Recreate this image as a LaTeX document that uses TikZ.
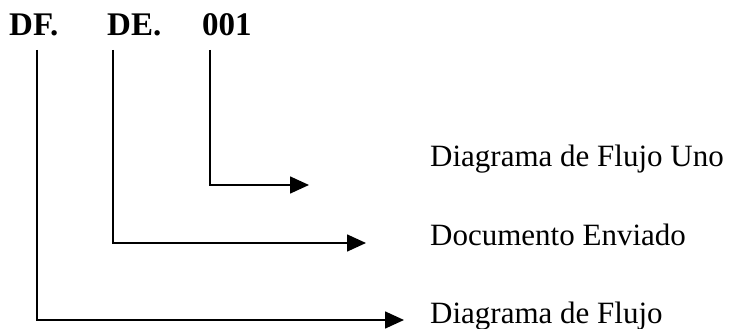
\documentclass[tikz,border=0pt]{standalone}
\usepackage{fontspec}
\setmainfont{Liberation Serif}
\usepackage{tikz}
\usetikzlibrary{arrows.meta}

\begin{document}
\begin{tikzpicture}[x=1pt, y=-1pt,
    codigo/.style={anchor=base west, inner sep=0pt, font=\fontsize{33}{38}\selectfont\bfseries},
    texto/.style={anchor=base west, inner sep=0pt, font=\fontsize{31}{36}\selectfont},
    flecha/.style={line width=1.6pt, -{Triangle[length=19pt, width=17pt]}}]
    \useasboundingbox (0,0) rectangle (732,329);

    % Code parts
    \node[codigo] (df)  at (9,36)   {DF.};
    \node[codigo] (de)  at (107,36) {DE.};
    \node[codigo] (num) at (202,36) {001};

    % Meanings
    \node[texto] (uno) at (430,167) {Diagrama de Flujo Uno};
    \node[texto] (env) at (430,245) {Documento Enviado};
    \node[texto] (flu) at (430,323) {Diagrama de Flujo};

    % Line start and end points
    \coordinate (a1) at (37,50);
    \coordinate (a2) at (113,50);
    \coordinate (a3) at (210,50);
    \coordinate (b1) at (404,320);
    \coordinate (b2) at (366,243);
    \coordinate (b3) at (309,185);

    % Connectors
    \draw[flecha] (a3) |- (b3);
    \draw[flecha] (a2) |- (b2);
    \draw[flecha] (a1) |- (b1);
\end{tikzpicture}
\end{document}
